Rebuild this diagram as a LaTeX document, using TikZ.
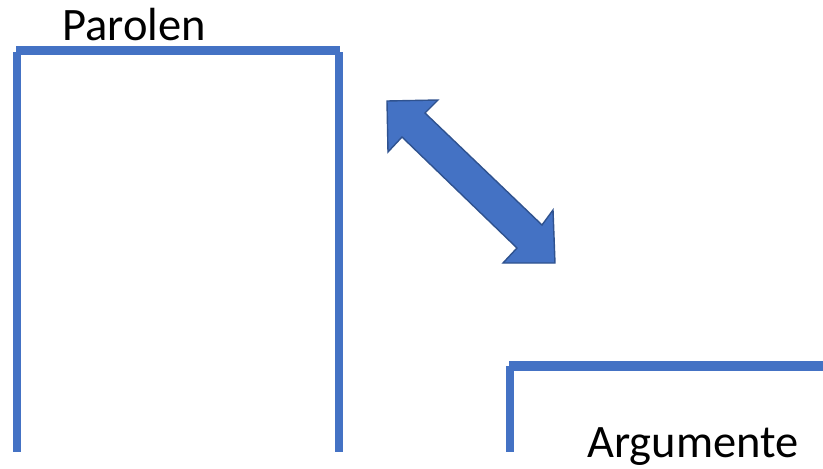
\documentclass[tikz,border=0pt]{standalone}
\usepackage{fontspec}
\setmainfont{Carlito}
\definecolor{barblue}{HTML}{4472C4}
\definecolor{edgeblue}{HTML}{2F528F}
\begin{document}
\begin{tikzpicture}[x=1pt,y=-1pt,
  bar/.style={draw=barblue,line width=9pt},
  post/.style={draw=barblue,line width=8pt},
  lbl/.style={inner sep=0pt,anchor=base,font=\fontsize{46.5}{56}\selectfont},
  bigarrow/.style={fill=barblue,draw=edgeblue,line width=1.4pt,line join=miter}]
\useasboundingbox (0,0) rectangle (823,469);
% left frame
\coordinate (lt1) at (16,50.5);
\coordinate (lt2) at (340,50.5);
\coordinate (la1) at (17,52);
\coordinate (la2) at (17,452);
\coordinate (lb1) at (339,52);
\coordinate (lb2) at (339,452);
\draw[bar] (lt1) -- (lt2);
\draw[post] (la1) -- (la2);
\draw[post] (lb1) -- (lb2);
% right frame
\coordinate (rt1) at (509,366);
\coordinate (rt2) at (824,366);
\coordinate (ra1) at (510,366);
\coordinate (ra2) at (510,452);
\draw[bar,line width=10pt] (rt1) -- (rt2);
\draw[post] (ra1) -- (ra2);
% labels
\node[lbl] (parolen) at (134,40) {Parolen};
\node[lbl] (argumente) at (693,457) {Argumente};
% double arrow
\draw[bigarrow] (387,101) -- (438,100) -- (425,113) -- (542,225) -- (553,210)
  -- (555,263) -- (503,263) -- (517,248) -- (402,137) -- (388,152) -- cycle;
\end{tikzpicture}
\end{document}
